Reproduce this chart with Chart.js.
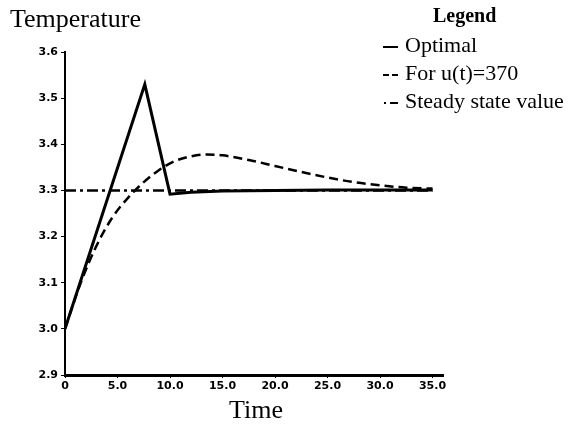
<!DOCTYPE html>
<html>
<head>
<meta charset="utf-8">
<script src="https://cdn.jsdelivr.net/npm/chart.js@4"></script>
<style>
    body { margin: 0; background: #fff; }
    #wrap { position: relative; width: 571px; height: 434px; font-family: "Liberation Serif", serif; color: #000; }
    #chart { position: absolute; left: 0; top: 0; }
    .lbl { position: absolute; white-space: nowrap; line-height: 1; }
    #yTitle { left: 10px; top: 6px; font-size: 26px; }
    #xTitle { left: 229px; top: 397px; font-size: 26px; }
    #legend { position: absolute; left: 383px; top: 5px; }
    #legend .head { position: absolute; left: 50px; top: 0; font-size: 20px; font-weight: bold; line-height: 1; }
    #legend .row { position: absolute; left: 0; font-size: 22px; line-height: 1; white-space: nowrap; }
    #legend svg { vertical-align: middle; margin-right: 7px; }
</style>
</head>
<body>
<div id="wrap">
    <canvas id="chart" width="571" height="434"></canvas>
    <div class="lbl" id="yTitle">Temperature</div>
    <div class="lbl" id="xTitle">Time</div>
    <div id="legend"></div>
</div>
<script>
// temperature vs time
const optimalTime = [0, 7.6, 10.0, 12.0, 15.0, 20.0, 25.0, 35.0];
const optimalTemp = [3.0, 3.53, 3.292, 3.296, 3.299, 3.300, 3.301, 3.301];

const constantTime = [0, 1.5, 3.0, 4.5, 6.0, 7.5, 9.0, 10.5, 12.0, 13.5, 15.0, 17.5, 20.0, 22.5, 25.0, 27.5, 30.0, 32.5, 35.0];
const constantTemp = [3.0, 3.100, 3.180, 3.241, 3.284, 3.318, 3.345, 3.364, 3.374, 3.378, 3.376, 3.366, 3.353, 3.340, 3.328, 3.318, 3.311, 3.306, 3.304];

const steadyTime = [0, 35.0];
const steadyTemp = [3.3, 3.3];

const seriesNames = ['Optimal', 'For u(t)=370', 'Steady state value'];
const xTicks = [0, 5, 10, 15, 20, 25, 30, 35];

function toPoints(xs, ys) {
    return xs.map((x, i) => ({ x: x, y: ys[i] }));
}

const dashes = [[], [9, 5], [11, 4, 3, 4]];
const widths = [3, 2.5, 2.5];

// little line samples for the legend: solid, "--", "·-"
const samples = [
    [[0, 15]],
    [[0, 6], [9, 15]],
    [[1, 3], [7, 15]]
];

const legend = document.getElementById('legend');
legend.innerHTML = '<div class="head">Legend</div>';
seriesNames.forEach((name, i) => {
    const row = document.createElement('div');
    row.className = 'row';
    row.style.top = (29 + i * 28) + 'px';
    const segs = samples[i].map(s => '<line x1="' + s[0] + '" y1="3" x2="' + s[1] + '" y2="3" stroke="#000" stroke-width="2"/>').join('');
    row.innerHTML = '<svg width="15" height="6">' + segs + '</svg>' + name;
    legend.appendChild(row);
});

const tickFont = { family: 'DejaVu Sans', size: 11, weight: 'bold' };

new Chart(document.getElementById('chart').getContext('2d'), {
    type: 'line',
    data: {
        datasets: [{
            label: seriesNames[0],
            data: toPoints(optimalTime, optimalTemp),
            borderColor: '#000',
            borderWidth: widths[0],
            pointRadius: 0,
            tension: 0
        }, {
            label: seriesNames[1],
            data: toPoints(constantTime, constantTemp),
            borderColor: '#000',
            borderWidth: widths[1],
            borderDash: dashes[1],
            pointRadius: 0,
            cubicInterpolationMode: 'monotone'
        }, {
            label: seriesNames[2],
            data: toPoints(steadyTime, steadyTemp),
            borderColor: '#000',
            borderWidth: widths[2],
            borderDash: dashes[2],
            pointRadius: 0
        }]
    },
    options: {
        responsive: false,
        animation: false,
        layout: { padding: { left: 0, top: 52, right: 128, bottom: 0 } },
        plugins: { legend: { display: false }, tooltip: { enabled: false } },
        scales: {
            x: {
                type: 'linear',
                min: 0,
                max: 36,
                afterBuildTicks: scale => { scale.ticks = xTicks.map(v => ({ value: v })); },
                afterFit: scale => { scale.height = 59; },
                border: { display: true, color: '#000', width: 3 },
                grid: { display: true, drawOnChartArea: false, drawTicks: true, tickLength: 3, color: '#000' },
                ticks: {
                    color: '#000',
                    font: tickFont,
                    padding: 2,
                    maxRotation: 0,
                    callback: v => v === 0 ? '0' : v.toFixed(1)
                }
            },
            y: {
                min: 2.9,
                max: 3.6,
                afterFit: scale => { scale.width = 65; },
                border: { display: true, color: '#000', width: 2 },
                grid: { display: true, drawOnChartArea: false, drawTicks: true, tickLength: 4, color: '#000' },
                ticks: {
                    stepSize: 0.1,
                    color: '#000',
                    font: tickFont,
                    padding: 3,
                    callback: v => v.toFixed(1)
                }
            }
        }
    }
});
</script>
</body>
</html>
